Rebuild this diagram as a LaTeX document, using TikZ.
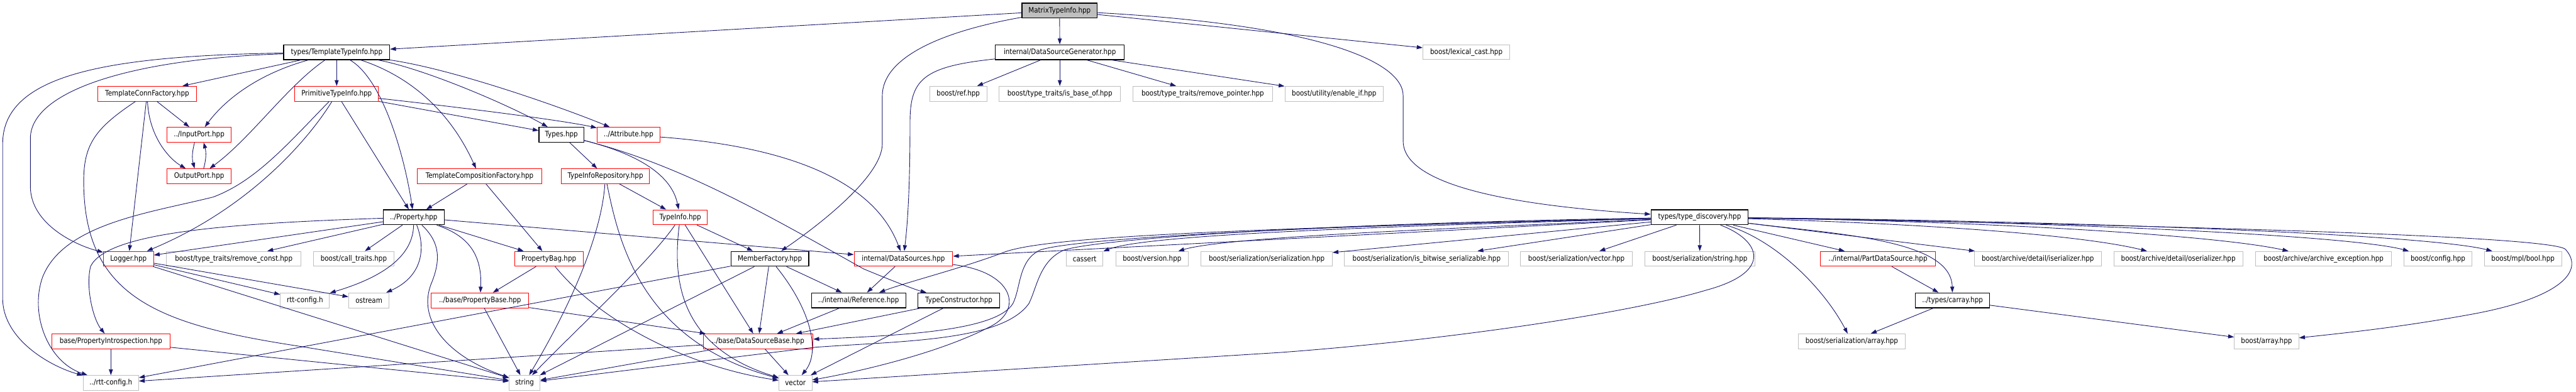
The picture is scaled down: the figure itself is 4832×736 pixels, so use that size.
\documentclass[tikz,border=0pt]{standalone}
\usepackage{fontspec}
\newfontfamily\doxfont{DejaVu Sans}[FakeStretch=0.87]
\usetikzlibrary{arrows.meta}
\definecolor{edgeblue}{HTML}{191970}
\definecolor{extgray}{HTML}{BFBFBF}
\definecolor{trunred}{HTML}{FF0000}
\tikzset{
  incfile/.style={rectangle, draw, fill=white, minimum height=0.56cm, inner sep=0pt,
    font=\doxfont\fontsize{8}{9.6}\selectfont, line width=0.6pt},
  blkfile/.style={incfile, draw=black, line width=0.8pt},
  redfile/.style={incfile, draw=trunred},
  extfile/.style={incfile, draw=extgray},
  rootfile/.style={incfile, draw=black, fill=extgray, line width=0.8pt},
  dep/.style={draw=edgeblue, line width=0.6pt, -{Triangle[length=0.22cm,width=0.15cm]}}
}
\begin{document}
\begin{tikzpicture}[x=0.02cm, y=-0.02cm]
  \useasboundingbox (0,0) rectangle (4832,736);
  \fill[white] (0,0) rectangle (4832,736);

  % row 0 and 1
  \node[rootfile, minimum width=2.82cm] (matrix) at (1987.5,20) {MatrixTypeInfo.hpp};
  \node[blkfile, minimum width=3.98cm] (templti) at (631.5,98) {types/TemplateTypeInfo.hpp};
  \node[blkfile, minimum width=4.84cm] (dsgen) at (1988,98) {internal/DataSourceGenerator.hpp};
  \node[extfile, minimum width=3.26cm] (lexcast) at (2750.5,98) {boost/lexical\_cast.hpp};
  % row 2
  \node[redfile, minimum width=3.72cm] (tconnf) at (276,176) {TemplateConnFactory.hpp};
  \node[redfile, minimum width=3.14cm] (primti) at (631.5,176) {PrimitiveTypeInfo.hpp};
  \node[extfile, minimum width=2.14cm] (boostref) at (1797.5,176) {boost/ref.hpp};
  \node[extfile, minimum width=4.56cm] (isbase) at (1988,176) {boost/type\_traits/is\_base\_of.hpp};
  \node[extfile, minimum width=5.24cm] (rmptr) at (2256,176) {boost/type\_traits/remove\_pointer.hpp};
  \node[extfile, minimum width=3.70cm] (enableif) at (2502.5,176) {boost/utility/enable\_if.hpp};
  % row 3 and 4
  \node[redfile, minimum width=2.42cm] (inport) at (373.5,253) {../InputPort.hpp};
  \node[blkfile, minimum width=1.68cm] (types) at (1053,253) {Types.hpp};
  \node[redfile, minimum width=2.36cm] (attrib) at (1179,253) {../Attribute.hpp};
  \node[redfile, minimum width=2.42cm] (outport) at (373.5,331) {OutputPort.hpp};
  \node[redfile, minimum width=4.66cm] (tcompf) at (899.5,331) {TemplateCompositionFactory.hpp};
  \node[redfile, minimum width=3.30cm] (tirepo) at (1135.5,331) {TypeInfoRepository.hpp};
  % row 5
  \node[blkfile, minimum width=2.28cm] (property) at (776,408) {../Property.hpp};
  \node[redfile, minimum width=2.04cm] (typeinfo) at (1276,408) {TypeInfo.hpp};
  \node[blkfile, minimum width=3.64cm] (typedisc) at (3188,408) {types/type\_discovery.hpp};
  % row 6
  \node[redfile, minimum width=1.88cm] (logger) at (241,486) {Logger.hpp};
  \node[extfile, minimum width=5.06cm] (rmconst) at (438.5,486) {boost/type\_traits/remove\_const.hpp};
  \node[extfile, minimum width=3.02cm] (calltr) at (663.5,486) {boost/call\_traits.hpp};
  \node[redfile, minimum width=2.58cm] (propbag) at (1029.5,486) {PropertyBag.hpp};
  \node[blkfile, minimum width=2.92cm] (memberf) at (1444,486) {MemberFactory.hpp};
  \node[redfile, minimum width=3.70cm] (datasrcs) at (1694.5,486) {internal/DataSources.hpp};
  \node[extfile, minimum width=1.38cm] (cassert) at (2034.5,486) {cassert};
  \node[extfile, minimum width=2.72cm] (version) at (2161,486) {boost/version.hpp};
  \node[extfile, minimum width=4.92cm] (serial) at (2376,486) {boost/serialization/serialization.hpp};
  \node[extfile, minimum width=6.16cm] (bitwise) at (2676,486) {boost/serialization/is\_bitwise\_serializable.hpp};
  \node[extfile, minimum width=4.20cm] (servec) at (2957,486) {boost/serialization/vector.hpp};
  \node[extfile, minimum width=4.14cm] (serstr) at (3188.5,486) {boost/serialization/string.hpp};
  \node[redfile, minimum width=4.30cm] (partds) at (3522.5,486) {../internal/PartDataSource.hpp};
  \node[extfile, minimum width=4.78cm] (iser) at (3822.5,486) {boost/archive/detail/iserializer.hpp};
  \node[extfile, minimum width=4.84cm] (oser) at (4086,486) {boost/archive/detail/oserializer.hpp};
  \node[extfile, minimum width=5.10cm] (archexc) at (4358.5,486) {boost/archive/archive\_exception.hpp};
  \node[extfile, minimum width=2.56cm] (bconfig) at (4573,486) {boost/config.hpp};
  \node[extfile, minimum width=2.90cm] (mplbool) at (4732.5,486) {boost/mpl/bool.hpp};
  % row 7
  \node[extfile, minimum width=1.84cm] (rttcfg) at (572,564) {rtt-config.h};
  \node[extfile, minimum width=1.52cm] (ostream) at (692,564) {ostream};
  \node[redfile, minimum width=3.66cm] (propbase) at (900.5,564) {../base/PropertyBase.hpp};
  \node[blkfile, minimum width=3.54cm] (intref) at (1610.5,564) {../internal/Reference.hpp};
  \node[blkfile, minimum width=3.06cm] (typecons) at (1798.5,564) {TypeConstructor.hpp};
  \node[blkfile, minimum width=2.78cm] (carray) at (3662.5,564) {../types/carray.hpp};
  % row 8 and 9
  \node[redfile, minimum width=4.44cm] (propintro) at (208,641) {base/PropertyIntrospection.hpp};
  \node[redfile, minimum width=4.12cm] (dsbase) at (1422,641) {../base/DataSourceBase.hpp};
  \node[extfile, minimum width=4.02cm] (serarr) at (3473.5,641) {boost/serialization/array.hpp};
  \node[extfile, minimum width=2.42cm] (barray) at (4251.5,641) {boost/array.hpp};
  \node[extfile, minimum width=2.08cm] (rttcfgup) at (208,719) {../rtt-config.h};
  \node[extfile, minimum width=1.16cm] (string) at (984,719) {string};
  \node[extfile, minimum width=1.24cm] (vector) at (1492,719) {vector};

  % MatrixTypeInfo
  \draw[dep] (matrix) -- (templti);
  \draw[dep] (matrix) -- (dsgen);
  \draw[dep] (matrix) -- (lexcast);
  \draw[dep] (matrix) .. controls (1760,60) and (1655,110) .. (1655,180) -- (1655,270) .. controls (1655,330) and (1540,420) .. (memberf);
  \draw[dep] (matrix) .. controls (2450,45) and (2632,110) .. (2632,180) -- (2632,265) .. controls (2632,360) and (2900,390) .. (typedisc);
  % DataSourceGenerator
  \draw[dep] (dsgen) .. controls (1730,125) and (1707,150) .. (1707,230) .. controls (1707,380) and (1700,440) .. (datasrcs);
  \draw[dep] (dsgen) -- (boostref);
  \draw[dep] (dsgen) -- (isbase);
  \draw[dep] (dsgen) -- (rmptr);
  \draw[dep] (dsgen) -- (enableif);
  % TemplateTypeInfo
  \draw[dep] (templti) -- (tconnf);
  \draw[dep] (templti) -- (primti);
  \draw[dep] (templti) .. controls (480,140) and (420,190) .. (inport);
  \draw[dep] (templti) .. controls (540,160) and (470,260) .. (outport);
  \draw[dep] (templti) .. controls (720,150) and (760,300) .. (property);
  \draw[dep] (templti) .. controls (800,130) and (960,200) .. (types);
  \draw[dep] (templti) .. controls (850,130) and (1050,200) .. (attrib);
  \draw[dep] (templti) .. controls (760,140) and (840,200) .. (tcompf);
  \draw[dep] (templti) .. controls (250,110) and (57,170) .. (57,260) -- (57,350) .. controls (57,420) and (140,460) .. (logger);
  \draw[dep] (templti) .. controls (200,105) and (5,140) .. (5,270) -- (5,560) .. controls (5,640) and (100,690) .. (rttcfgup);
  % PrimitiveTypeInfo
  \draw[dep] (primti) -- (types);
  \draw[dep] (primti) .. controls (850,200) and (1050,225) .. (attrib);
  \draw[dep] (primti) -- (property);
  \draw[dep] (primti) .. controls (580,260) and (470,390) .. (logger);
  \draw[dep] (primti) .. controls (540,270) and (480,340) .. (400,370) .. controls (280,400) and (120,420) .. (80,520) .. controls (55,590) and (90,680) .. (rttcfgup);
  % TemplateConnFactory
  \draw[dep] (tconnf) -- (inport);
  \draw[dep] (tconnf) .. controls (280,260) and (320,300) .. (outport);
  \draw[dep] (tconnf) -- (logger);
  \draw[dep] (tconnf) .. controls (180,240) and (157,270) .. (157,340) .. controls (157,560) and (300,610) .. (560,650) -- (string);
  % ports
  \draw[dep] ([xshift=-0.17cm]inport.south) to[bend right=15] ([xshift=-0.17cm]outport.north);
  \draw[dep] ([xshift=0.17cm]outport.north) to[bend right=15] ([xshift=0.17cm]inport.south);
  % Property
  \draw[dep] (property) -- (logger);
  \draw[dep] (property) -- (rmconst);
  \draw[dep] (property) -- (calltr);
  \draw[dep] (property) .. controls (775,480) and (720,520) .. (rttcfg);
  \draw[dep] (property) .. controls (800,470) and (790,520) .. (ostream);
  \draw[dep] (property) .. controls (400,420) and (200,440) .. (170,500) .. controls (160,540) and (175,600) .. (propintro);
  \draw[dep] (property) -- (propbag);
  \draw[dep] (property) .. controls (870,440) and (905,470) .. (propbase);
  \draw[dep] (property) -- (datasrcs);
  \draw[dep] (property) .. controls (820,450) and (830,480) .. (810,530) .. controls (780,600) and (840,670) .. (string);
  % TemplateCompositionFactory
  \draw[dep] (tcompf) -- (property);
  \draw[dep] (tcompf) -- (propbag);
  % Logger, PropertyIntrospection
  \draw[dep] (logger) -- (rttcfg);
  \draw[dep] (logger) -- (ostream);
  \draw[dep] (logger) -- (string);
  \draw[dep] (propintro) -- (rttcfgup);
  \draw[dep] (propintro) -- (string);
  % Types, Attribute
  \draw[dep] (types) -- (tirepo);
  \draw[dep] (types) .. controls (1200,290) and (1260,330) .. (typeinfo);
  \draw[dep] (types) .. controls (1280,310) and (1450,410) .. (1620,505) .. controls (1680,530) and (1720,545) .. (typecons);
  \draw[dep] (attrib) .. controls (1480,275) and (1640,340) .. (datasrcs);
  % TypeInfoRepository, TypeInfo
  \draw[dep] (tirepo) -- (typeinfo);
  \draw[dep] (tirepo) .. controls (1130,420) and (1090,540) .. (string);
  \draw[dep] (tirepo) .. controls (1160,450) and (1200,640) .. (vector);
  \draw[dep] (typeinfo) -- (memberf);
  \draw[dep] (typeinfo) -- (dsbase);
  \draw[dep] (typeinfo) .. controls (1220,490) and (1080,620) .. (string);
  \draw[dep] (typeinfo) .. controls (1262,520) and (1270,650) .. (vector);
  % PropertyBag, PropertyBase
  \draw[dep] (propbag) -- (propbase);
  \draw[dep] (propbag) .. controls (1130,610) and (1300,690) .. (vector);
  \draw[dep] (propbase) -- (string);
  \draw[dep] (propbase) -- (dsbase);
  % MemberFactory
  \draw[dep] (memberf) -- (rttcfgup);
  \draw[dep] (memberf) -- (string);
  \draw[dep] (memberf) -- (dsbase);
  \draw[dep] (memberf) -- (intref);
  \draw[dep] (memberf) .. controls (1520,580) and (1540,660) .. (vector);
  % Reference, TypeConstructor, DataSourceBase, DataSources
  \draw[dep] (intref) -- (dsbase);
  \draw[dep] (typecons) -- (dsbase);
  \draw[dep] (typecons) -- (vector);
  \draw[dep] (dsbase) -- (string);
  \draw[dep] (dsbase) -- (vector);
  \draw[dep] (dsbase) -- (rttcfgup);
  \draw[dep] (datasrcs) -- (intref);
  \draw[dep] (datasrcs) .. controls (1900,510) and (1920,580) .. (1860,612) .. controls (1760,665) and (1600,700) .. (vector);
  % type_discovery
  \draw[dep] (typedisc) -- (datasrcs);
  \draw[dep] (typedisc) .. controls (2300,430) and (1950,445) .. (1880,475) .. controls (1800,505) and (1700,530) .. (intref);
  \draw[dep] (typedisc) .. controls (2400,425) and (2000,450) .. (1950,470) .. controls (1910,490) and (1915,540) .. (1900,570) .. controls (1870,620) and (1700,630) .. (dsbase);
  \draw[dep] (typedisc) .. controls (2450,420) and (2050,450) .. (1995,470) .. controls (1950,490) and (1945,540) .. (1930,570) .. controls (1880,640) and (1700,640) .. (1530,652) -- (string);
  \draw[dep] (typedisc) .. controls (3300,450) and (3330,510) .. (3200,545) .. controls (3050,590) and (2700,640) .. (2400,662) -- (vector);
  \draw[dep] (typedisc) .. controls (2600,425) and (2150,440) .. (cassert);
  \draw[dep] (typedisc) .. controls (2700,430) and (2300,445) .. (version);
  \draw[dep] (typedisc) -- (serial);
  \draw[dep] (typedisc) -- (bitwise);
  \draw[dep] (typedisc) -- (servec);
  \draw[dep] (typedisc) -- (serstr);
  \draw[dep] (typedisc) -- (partds);
  \draw[dep] (typedisc) .. controls (3450,440) and (3660,450) .. (carray);
  \draw[dep] (typedisc) .. controls (3330,450) and (3420,540) .. (serarr);
  \draw[dep] (typedisc) -- (iser);
  \draw[dep] (typedisc) .. controls (3600,420) and (3900,440) .. (oser);
  \draw[dep] (typedisc) .. controls (3700,415) and (4150,440) .. (archexc);
  \draw[dep] (typedisc) .. controls (3800,415) and (4400,440) .. (bconfig);
  \draw[dep] (typedisc) .. controls (3900,415) and (4550,440) .. (mplbool);
  \draw[dep] (typedisc) .. controls (3900,420) and (4780,440) .. (4812,468) .. controls (4850,510) and (4800,560) .. (4637,590) .. controls (4500,615) and (4400,625) .. (barray);
  % carray
  \draw[dep] (partds) -- (carray);
  \draw[dep] (carray) -- (serarr);
  \draw[dep] (carray) -- (barray);
\end{tikzpicture}
\end{document}
